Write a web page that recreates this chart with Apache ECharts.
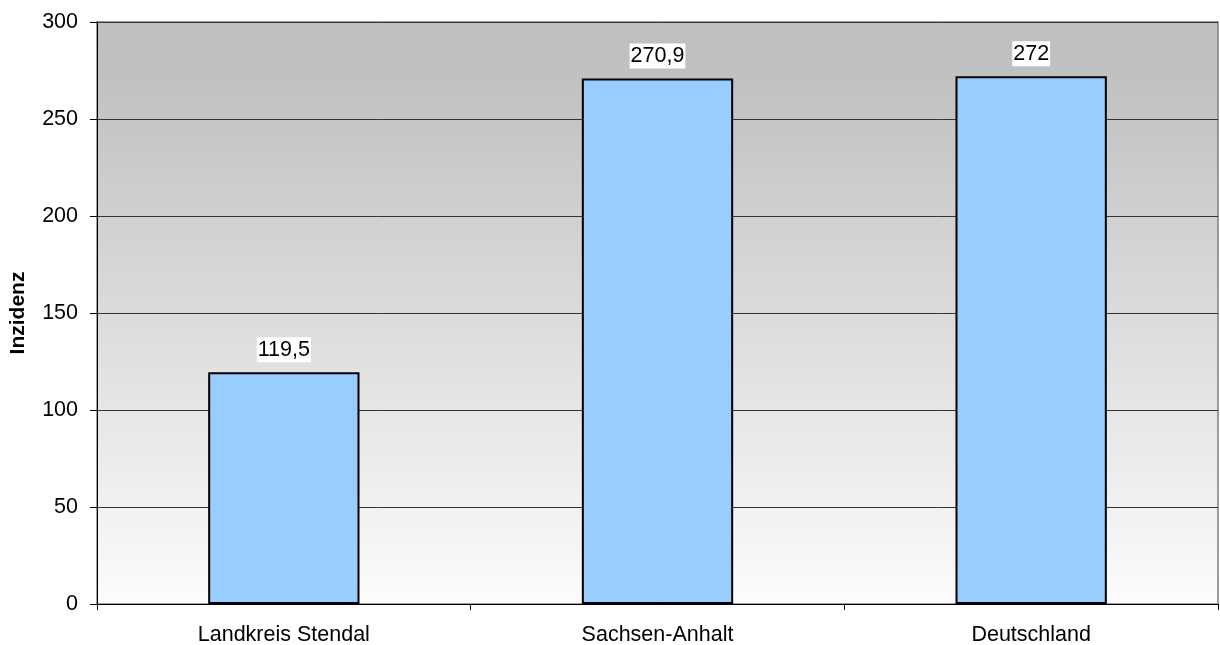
<!DOCTYPE html>
<html>
<head>
<meta charset="utf-8">
<script src="https://cdn.jsdelivr.net/npm/echarts@6/dist/echarts.min.js"></script>
<style>
  html, body { margin: 0; padding: 0; background: #fff; }
  #chart { width: 1220px; height: 645px; }
</style>
</head>
<body>
<div id="chart"></div>
<script>
// Incidence by region
const categories = ['Landkreis Stendal', 'Sachsen-Anhalt', 'Deutschland'];
const incidence = [119.5, 270.9, 272];
const yTicks = { min: 0, max: 300, interval: 50 };

const chart = echarts.init(document.getElementById('chart'));
const font = 'Arial, "Liberation Sans", sans-serif';
const fs = 21.5;

chart.setOption({
  animation: false,
  grid: {
    left: 97, right: 2, top: 22, bottom: 41,
    outerBoundsMode: 'none',
    containLabel: false,
    show: true,
    borderColor: '#808080',
    borderWidth: 1.5,
    backgroundColor: new echarts.graphic.LinearGradient(0, 0, 0, 1, [
      { offset: 0, color: '#bfbfbf' },
      { offset: 0.1, color: '#c1c1c1' },
      { offset: 1, color: '#fcfcfc' }
    ])
  },
  xAxis: {
    type: 'category',
    data: categories,
    axisLine: { lineStyle: { color: '#000', width: 1 } },
    axisTick: { show: true, alignWithLabel: false, length: 6, lineStyle: { color: '#000' } },
    axisLabel: { color: '#000', fontFamily: font, fontSize: fs, margin: 20 }
  },
  yAxis: {
    type: 'value',
    min: yTicks.min, max: yTicks.max, interval: yTicks.interval,
    name: 'Inzidenz',
    nameLocation: 'middle',
    nameGap: 68,
    nameTextStyle: { color: '#000', fontFamily: font, fontSize: 21, fontWeight: 'bold' },
    axisLine: { show: true, lineStyle: { color: '#000', width: 1 } },
    axisTick: { show: true, length: 7, lineStyle: { color: '#000' } },
    axisLabel: { color: '#000', fontFamily: font, fontSize: fs, margin: 19,
      formatter: v => String(v) },
    splitLine: { show: true, lineStyle: { color: '#333', width: 1 } }
  },
  series: [{
    type: 'bar',
    data: incidence,
    barWidth: '40.5%',
    itemStyle: { color: '#99ccff', borderColor: '#000', borderWidth: 2 },
    label: {
      show: true,
      position: 'top',
      distance: 10,
      color: '#000',
      fontFamily: font,
      fontSize: fs,
      backgroundColor: '#fff',
      padding: [2, 1, 1, 1],
      formatter: p => String(p.value).replace('.', ',')
    }
  }]
});
</script>
</body>
</html>
